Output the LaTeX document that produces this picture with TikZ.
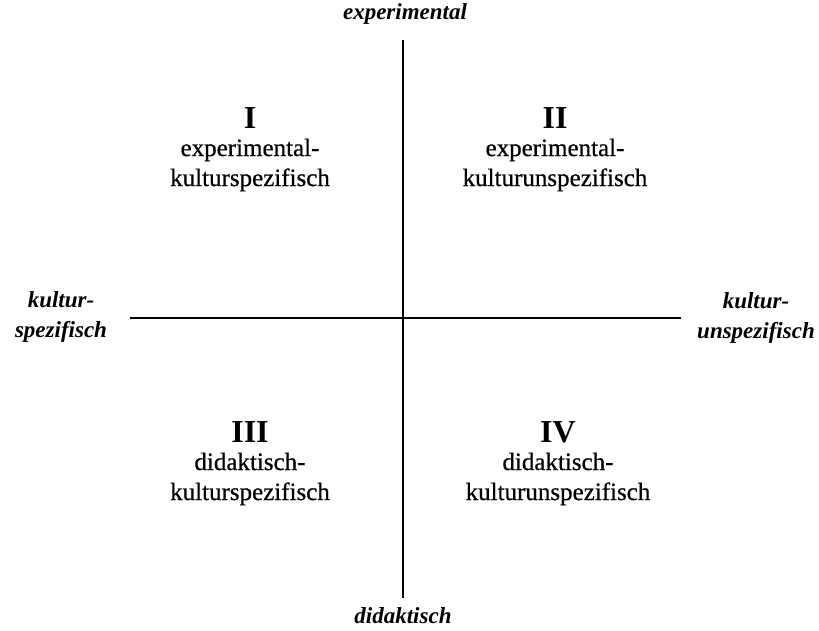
\documentclass[tikz,border=0pt]{standalone}
\usepackage{fontspec}
\setmainfont{Liberation Serif}
\newfontfamily\quadfont[FakeBold=0.6]{Liberation Serif}
\begin{document}
\begin{tikzpicture}[x=1pt,y=-1pt,
  axislbl/.style={font=\fontsize{23}{30}\selectfont\bfseries\itshape, align=center, inner sep=0pt},
  numlbl/.style={font=\fontsize{32}{34}\selectfont\bfseries, inner sep=0pt},
  quadlbl/.style={font=\quadfont\fontsize{25}{30}\selectfont, align=center, inner sep=0pt},
  axisline/.style={line width=1.4pt}]
\useasboundingbox (0,0) rectangle (819,631);
\coordinate (vtop) at (403,40);
\coordinate (vbot) at (403,598);
\coordinate (hleft) at (130,318);
\coordinate (hright) at (681,318);
\draw[axisline] (vtop) -- (vbot);
\draw[axisline] (hleft) -- (hright);
\node[axislbl] (top) at (405,14) {experimental};
\node[axislbl] (bot) at (403,616) {didaktisch};
\node[axislbl] (left) at (61,317) {kultur-\\spezifisch};
\node[axislbl] (right) at (756,318) {kultur-\\unspezifisch};
\node[numlbl] (n1) at (250,118) {I};
\node[quadlbl] (q1) at (250,165) {experimental-\\kulturspezifisch};
\node[numlbl] (n2) at (555,118) {II};
\node[quadlbl] (q2) at (555,165) {experimental-\\kulturunspezifisch};
\node[numlbl] (n3) at (250,432) {III};
\node[quadlbl] (q3) at (250,479) {didaktisch-\\kulturspezifisch};
\node[numlbl] (n4) at (558,432) {IV};
\node[quadlbl] (q4) at (558,479) {didaktisch-\\kulturunspezifisch};
\end{tikzpicture}
\end{document}
